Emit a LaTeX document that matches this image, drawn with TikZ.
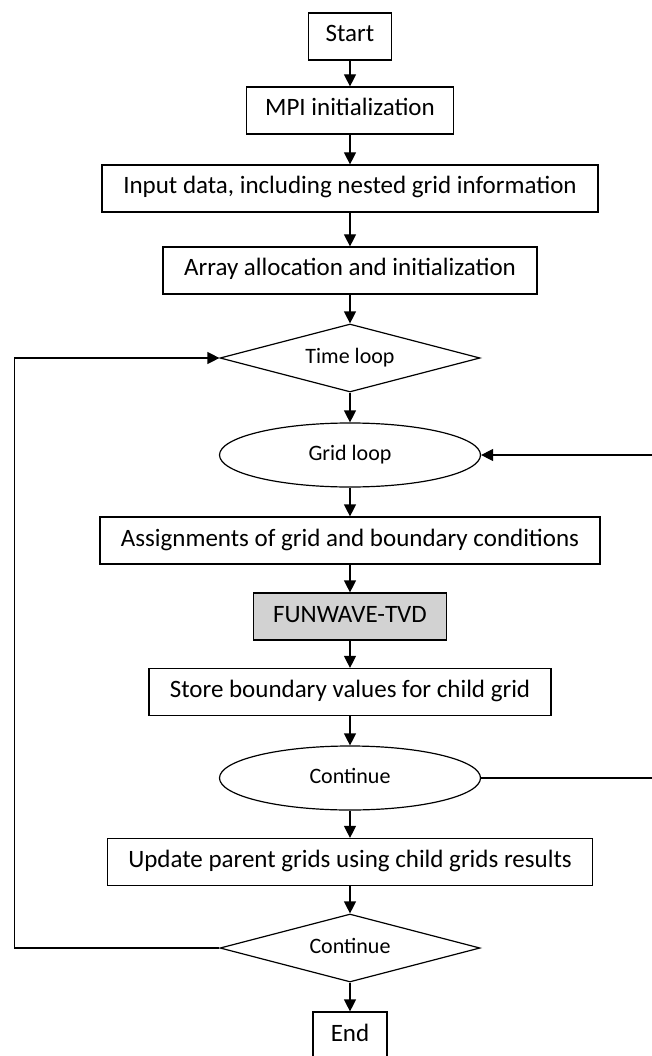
\documentclass[tikz,border=0pt]{standalone}
\usepackage{fontspec}
\setmainfont{Carlito}
\usetikzlibrary{arrows.meta,shapes.geometric}
\definecolor{procgray}{RGB}{210,210,210}
\tikzset{
  x=1pt, y=1pt,
  every node/.style={line width=1.2pt, inner sep=0pt},
  procbox/.style={draw, rectangle, font=\fontsize{25}{28}\selectfont, text height=16pt, text depth=5pt, minimum height=47pt},
  decis/.style={draw, diamond, aspect=3.8, font=\fontsize{22}{25}\selectfont, text height=14.5pt, text depth=4.5pt, minimum width=260pt, minimum height=68pt},
  loopell/.style={draw, ellipse, font=\fontsize{22}{25}\selectfont, text height=14.5pt, text depth=4.5pt, minimum width=261pt, minimum height=64pt},
  arr/.style={line width=1.2pt, -{Triangle[width=12pt,length=12pt]}}
}
\begin{document}
\begin{tikzpicture}
\useasboundingbox (0,0) rectangle (651,-1056);
\fill[white] (0,0) rectangle (651,-1056);
\node[procbox, minimum width=83pt] (start) at (350,-36.5) {Start};
\node[procbox, minimum width=207pt] (mpi) at (350,-110.5) {MPI initialization};
\node[procbox, minimum width=496pt] (input) at (350,-188.5) {Input data, including nested grid information};
\node[procbox, minimum width=374pt] (array) at (350,-270.5) {Array allocation and initialization};
\node[decis] (time) at (350,-358) {Time loop};
\node[loopell] (grid) at (350,-455) {Grid loop};
\node[procbox, minimum width=500pt] (assign) at (350,-540.5) {Assignments of grid and boundary conditions};
\node[procbox, fill=procgray, minimum width=193pt] (fun) at (350,-616.5) {FUNWAVE-TVD};
\node[procbox, minimum width=402pt] (store) at (350,-692) {Store boundary values for child grid};
\node[loopell] (cont1) at (350,-778) {Continue};
\node[procbox, minimum width=485pt] (update) at (350,-862) {Update parent grids using child grids results};
\node[decis] (cont2) at (350,-948) {Continue};
\node[procbox, minimum width=74pt] (end) at (350,-1035.5) {End};
\coordinate (lx) at (14.5,0);
\coordinate (rx) at (654,0);
\draw[arr] (start) -- (mpi);
\draw[arr] (mpi) -- (input);
\draw[arr] (input) -- (array);
\draw[arr] (array) -- (time);
\draw[arr] (time) -- (grid);
\draw[arr] (grid) -- (assign);
\draw[arr] (assign) -- (fun);
\draw[arr] (fun) -- (store);
\draw[arr] (store) -- (cont1);
\draw[arr] (cont1) -- (update);
\draw[arr] (update) -- (cont2);
\draw[arr] (cont2) -- (end);
\draw[arr] (cont2.west) -- (cont2.west -| lx) |- (time.west);
\draw[arr] (cont1.east) -- (cont1.east -| rx) |- (grid.east);
\end{tikzpicture}
\end{document}
